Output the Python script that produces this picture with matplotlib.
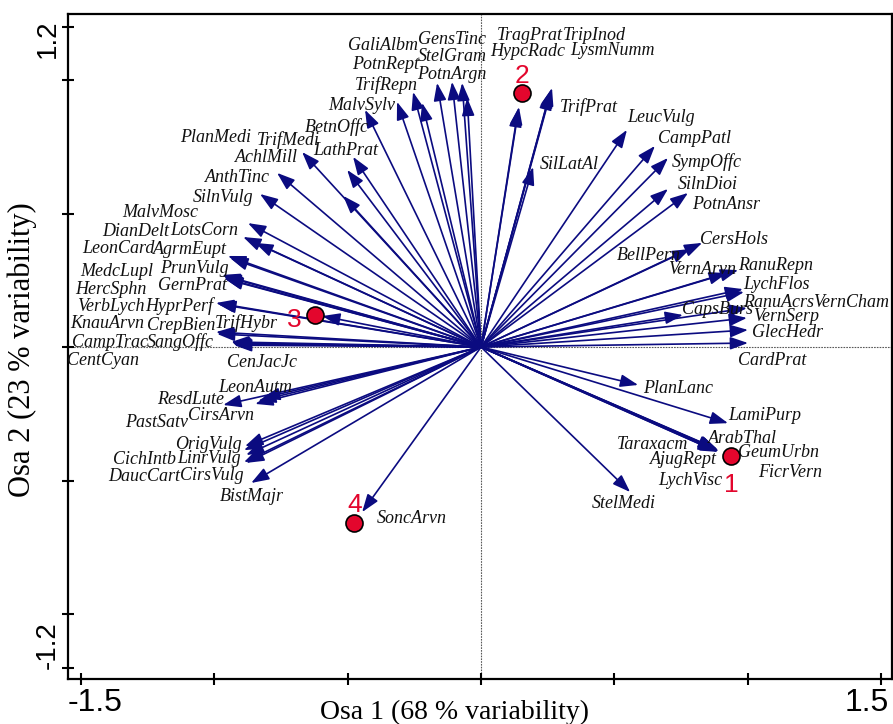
import matplotlib
matplotlib.use("Agg")
import matplotlib.pyplot as plt
from matplotlib.transforms import ScaledTranslation

# =============================================================================
# Data: species scores (arrow tips) and sample scores
# =============================================================================

species = [
    "GaliAlbm", "GensTinc", "StelGram", "PotnRept", "PotnArgn", "TrifRepn",
    "MalvSylv", "BetnOffc", "PlanMedi", "TrifMedi", "LathPrat", "AchlMill",
    "AnthTinc", "SilnVulg", "MalvMosc", "DianDelt", "LotsCorn", "LeonCard",
    "AgrmEupt", "MedcLupl", "PrunVulg", "GernPrat", "HercSphn", "VerbLych",
    "HyprPerf", "KnauArvn", "CrepBien", "TrifHybr", "CampTrac", "SangOffc",
    "CentCyan", "CenJacJc", "LeonAutm", "ResdLute", "CirsArvn", "PastSatv",
    "OrigVulg", "CichIntb", "LinrVulg", "DaucCart", "CirsVulg", "BistMajr",
    "SoncArvn", "TragPrat", "HypcRadc", "TripInod", "LysmNumm", "TrifPrat",
    "SilLatAl", "LeucVulg", "CampPatl", "SympOffc", "SilnDioi", "PotnAnsr",
    "CersHols", "BellPern", "VernArvn", "RanuRepn", "LychFlos", "RanuAcrs",
    "VernCham", "CapsBurs", "VernSerp", "GlecHedr", "CardPrat", "PlanLanc",
    "LamiPurp", "ArabThal", "Taraxacm", "GeumUrbn", "AjugRept", "FicrVern",
    "LychVisc", "StelMedi",
]

axis1 = [
    -0.165, -0.071, -0.052, -0.221, -0.109, -0.255,
    -0.315, -0.435, -0.517, -0.502, -0.480, -0.671,
    -0.765, -0.829, -0.874, -0.847, -0.892, -0.949,
    -0.941, -0.967, -0.971, -0.964, -0.960, -0.986,
    -0.994, -0.990, -0.994, -0.596, -0.930, -0.934,
    -0.937, -0.926, -0.821, -0.967, -0.836, -0.847,
    -0.885, -0.889, -0.881, -0.889, -0.881, -0.862,
    -0.446, 0.142, 0.139, 0.266, 0.262, 0.259,
    0.195, 0.547, 0.652, 0.701, 0.701, 0.776,
    0.829, 0.784, 0.922, 0.964, 0.982, 0.986,
    0.997, 0.757, 0.997, 1.001, 1.001, 0.589,
    0.926, 0.889, 0.885, 0.892, 0.881, 0.889,
    0.881, 0.559,
]

axis2 = [
    0.989, 0.989, 0.933, 0.914, 0.993, 0.955,
    0.918, 0.888, 0.566, 0.663, 0.712, 0.730,
    0.652, 0.573, 0.464, 0.390, 0.412, 0.341,
    0.333, 0.266, 0.270, 0.258, 0.255, 0.161,
    0.165, 0.049, 0.056, 0.116, 0.011, 0.015,
    0.019, 0.007, -0.191, -0.217, -0.202, -0.213,
    -0.371, -0.386, -0.404, -0.431, -0.434, -0.509,
    -0.618, 0.899, 0.891, 0.970, 0.963, 0.955,
    0.674, 0.813, 0.753, 0.708, 0.592, 0.577,
    0.390, 0.367, 0.277, 0.288, 0.217, 0.206,
    0.146, 0.120, 0.109, 0.064, 0.015, -0.142,
    -0.285, -0.386, -0.382, -0.390, -0.390, -0.393,
    -0.382, -0.543,
]

sample_ids = ["1", "2", "3", "4"]
sample_axis1 = [0.937, 0.154, -0.622, -0.476]
sample_axis2 = [-0.408, 0.951, 0.120, -0.659]

# =============================================================================
# Layout: label offsets from arrow tip (pixels, left/centre anchored)
# =============================================================================

label_offsets = {
    "GaliAlbm": (-89, 37), "GensTinc": (-44, 43), "StelGram": (-49, 41),
    "PotnRept": (-70, 38), "PotnArgn": (-35, 7), "TrifRepn": (-58, 7),
    "MalvSylv": (-69, -4), "BetnOffc": (-60, -17), "PlanMedi": (-163, 58),
    "TrifMedi": (-90, 30), "LathPrat": (-40, 6), "AchlMill": (-67, -5),
    "AnthTinc": (-72, -5), "SilnVulg": (-67, -3), "MalvMosc": (-126, 11),
    "DianDelt": (-153, 11), "LotsCorn": (-73, 7), "LeonCard": (-146, 7),
    "AgrmEupt": (-77, 9), "MedcLupl": (-143, 4), "PrunVulg": (-62, 6),
    "GernPrat": (-66, -7), "HercSphn": (-150, -11), "VerbLych": (-141, -2),
    "HyprPerf": (-71, -3), "KnauArvn": (-147, 10), "CrepBien": (-69, 7),
    "TrifHybr": (-107, -7), "CampTrac": (-161, 2), "SangOffc": (-85, 1),
    "CentCyan": (-164, -19), "CenJacJc": (-7, -17), "LeonAutm": (-44, 11),
    "ResdLute": (-66, 5), "CirsArvn": (-70, -15), "PastSatv": (-130, -19),
    "OrigVulg": (-70, 2), "CichIntb": (-131, -9), "LinrVulg": (-69, -4),
    "DaucCart": (-136, -14), "CirsVulg": (-66, -13), "BistMajr": (-31, -14),
    "SoncArvn": (15, -6), "TragPrat": (-22, 71), "HypcRadc": (-28, 58),
    "TripInod": (11, 52), "LysmNumm": (19, 39), "TrifPrat": (10, -15),
    "SilLatAl": (7, 3), "LeucVulg": (0, 12), "CampPatl": (3, 7),
    "SympOffc": (4, -4), "SilnDioi": (10, 4), "PotnAnsr": (4, -12),
    "CersHols": (-2, 3), "BellPern": (-73, -6), "VernArvn": (-59, 4),
    "RanuRepn": (0, 5), "LychFlos": (0, 5), "RanuAcrs": (-1, -10),
    "VernCham": (66, 6), "CapsBurs": (-1, 5), "VernSerp": (6, 1),
    "GlecHedr": (4, -3), "CardPrat": (-10, -17), "PlanLanc": (5, -4),
    "LamiPurp": (0, 8), "ArabThal": (-10, 12), "Taraxacm": (-100, 5),
    "GeumUrbn": (19, -1), "AjugRept": (-66, -8), "FicrVern": (40, -21),
    "LychVisc": (-58, -31), "StelMedi": (-38, -11),
}

sample_label_offsets = {"1": (0, -29), "2": (0, 17), "3": (-21, -5), "4": (1, 18)}

ARROW_COLOR = "#0b0b80"
SAMPLE_COLOR = "#e3062d"
SERIF = "Liberation Serif"
SANS = "Liberation Sans"

# =============================================================================
# Figure
# =============================================================================

fig = plt.figure(figsize=(8.93, 7.24), dpi=100)
ax = fig.add_axes([68 / 893, 45 / 724, 824 / 893, 665 / 724])

ax.set_xlim(-1.549, 1.541)
ax.set_ylim(-1.243, 1.247)

ax.axvline(0, color="0.35", linewidth=0.8, linestyle=(0, (1.5, 1)), zorder=1)
ax.axhline(0, color="0.35", linewidth=0.8, linestyle=(0, (1.5, 1)), zorder=1)

for name, x, y in zip(species, axis1, axis2):
    ax.annotate(
        "",
        xy=(x, y),
        xytext=(0, 0),
        arrowprops=dict(
            arrowstyle="-|>,head_length=0.9,head_width=0.32",
            color=ARROW_COLOR,
            linewidth=1.2,
            shrinkA=0,
            shrinkB=0,
            mutation_scale=12,
        ),
        zorder=2,
    )
    dx, dy = label_offsets[name]
    ax.annotate(
        name,
        xy=(x, y),
        xytext=(dx, dy),
        textcoords="offset pixels",
        ha="left",
        va="center",
        fontsize=13,
        fontstyle="italic",
        family=SERIF,
        color="#111111",
        zorder=3,
    )

ax.scatter(
    sample_axis1,
    sample_axis2,
    s=150,
    color=SAMPLE_COLOR,
    edgecolors="black",
    linewidths=1.2,
    zorder=4,
)

for sid, x, y in zip(sample_ids, sample_axis1, sample_axis2):
    dx, dy = sample_label_offsets[sid]
    ax.annotate(
        sid,
        xy=(x, y),
        xytext=(dx, dy),
        textcoords="offset pixels",
        ha="center",
        va="center",
        fontsize=19,
        family=SANS,
        color=SAMPLE_COLOR,
        zorder=5,
    )

# Axes, ticks and labels
ax.set_xticks([-1.5, -1.0, -0.5, 0.0, 0.5, 1.0, 1.5])
ax.set_xticklabels(["-1.5", "", "", "", "", "", "1.5"], family=SANS, fontsize=23)
ax.set_yticks([-1.2, -1.0, -0.5, 0.0, 0.5, 1.0, 1.2])
ax.set_yticklabels(["-1.2", "", "", "", "", "", "1.2"], family=SANS, fontsize=20,
                   rotation=90, va="center")

ax.tick_params(axis="both", direction="inout", length=9, width=1.5)
ax.tick_params(axis="x", pad=2)
ax.tick_params(axis="y", pad=0.5)

for spine in ax.spines.values():
    spine.set_linewidth(1.6)

shift = fig.dpi_scale_trans
xlabels = ax.get_xticklabels()
xlabels[0].set_transform(xlabels[0].get_transform() + ScaledTranslation(0.14, 0, shift))
xlabels[-1].set_transform(xlabels[-1].get_transform() + ScaledTranslation(-0.14, 0, shift))
ylabels = ax.get_yticklabels()
ylabels[0].set_transform(ylabels[0].get_transform() + ScaledTranslation(0, 0.22, shift))
ylabels[-1].set_transform(ylabels[-1].get_transform() + ScaledTranslation(0, -0.12, shift))

fig.text(455 / 893, 1 - 712 / 724, "Osa 1 (68 % variability)", family=SERIF,
         fontsize=20, ha="center", va="center")
fig.text(22 / 893, 1 - 350 / 724, "Osa 2 (23 % variability)", family=SERIF,
         fontsize=22, ha="center", va="center", rotation=90)

fig.savefig("out.png", dpi=100)
